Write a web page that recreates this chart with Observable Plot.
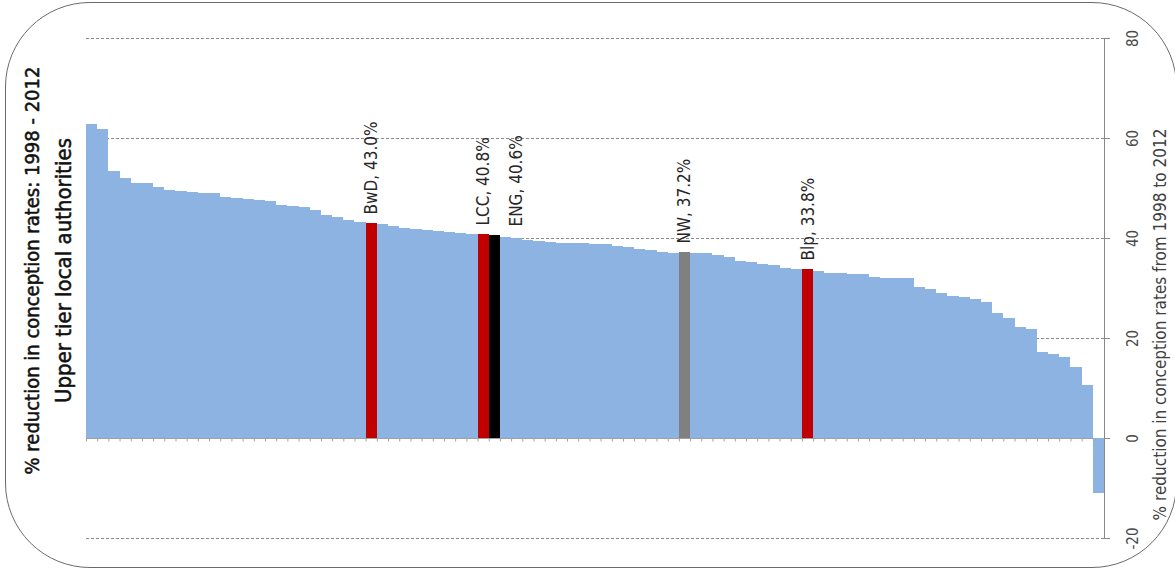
<!DOCTYPE html>
<html><head><meta charset="utf-8">
<script src="https://cdn.jsdelivr.net/npm/d3@7"></script>
<script src="https://cdn.jsdelivr.net/npm/@observablehq/plot@0.6"></script>
<style>
html,body{margin:0;padding:0;background:#fff;}
#wrap{position:relative;width:1175px;height:569px;overflow:hidden;}
#frame{position:absolute;left:5px;top:2px;width:1172px;height:566px;box-sizing:border-box;border:1.5px solid #6a6a6a;border-radius:85px;pointer-events:none;}
#chart svg{display:block;}
</style></head><body>
<div id="wrap"><div id="chart"></div><div id="frame"></div></div>
<script>
// % reduction in conception rates 1998-2012, upper tier local authorities, ranked
const values = [
  62.8, 61.9, 53.5, 52.0, 51.0, 51.0, 50.3, 49.7, 49.5, 49.3,
  49.1, 49.0, 48.3, 48.0, 47.9, 47.7, 47.4, 46.7, 46.4, 46.2,
  45.6, 44.7, 44.2, 43.7, 43.3, 43.0, 42.8, 42.5, 42.1, 41.8,
  41.6, 41.5, 41.3, 41.1, 40.9, 40.8, 40.6, 40.3, 40.1, 39.7,
  39.4, 39.2, 39.1, 39.0, 39.0, 38.9, 38.8, 38.5, 38.2, 37.9,
  37.6, 37.3, 37.1, 37.2, 37.1, 37.0, 36.7, 36.2, 35.4, 35.2,
  34.9, 34.6, 34.1, 33.9, 33.8, 33.4, 33.1, 33.0, 32.9, 32.9,
  32.3, 32.0, 32.0, 32.0, 30.3, 29.9, 29.0, 28.5, 28.2, 27.9,
  27.3, 25.0, 24.0, 22.2, 21.8, 17.2, 16.8, 16.3, 14.2, 10.6,
  -11.0
];
const areaCodes = ["BwD", "LCC", "ENG", "NW", "Blp"];
const areaRanks = [25, 35, 36, 53, 64];
const areaTypes = ["Local authority", "Local authority", "England", "Region", "Local authority"];
const typeNames = ["Other", "Local authority", "England", "Region"];
const yTicks = [-20, 0, 20, 40, 60, 80];
const yTitle = "% reduction in conception rates from 1998 to 2012";
const titleLines = ["% reduction in conception rates: 1998 - 2012", "Upper tier local authorities"];

const n = values.length;
const bars = values.map((v, i) => {
  const k = areaRanks.indexOf(i);
  return {i, v, type: k >= 0 ? areaTypes[k] : "Other", code: k >= 0 ? areaCodes[k] : null};
});
const labelled = bars.filter(d => d.code);
const labelText = d => `${d.code}, ${d.v.toFixed(1)}%`;
const font = '"Liberation Sans Narrow","DejaVu Sans Condensed","Roboto",sans-serif';

const chart = Plot.plot({
  width: 1175, height: 569,
  marginLeft: 86, marginRight: 71, marginTop: 38, marginBottom: 31,
  style: {fontFamily: font, background: "transparent", overflow: "visible"},
  x: {domain: [0, n], axis: null},
  y: {domain: [-20, 80], axis: null},
  color: {domain: typeNames, range: ["#8DB3E2", "#C00000", "#000000", "#808080"]},
  marks: [
    Plot.ruleY(yTicks.filter(t => t !== 0), {stroke: "#8a8a8a", strokeDasharray: "3,2", strokeWidth: 1}),
    Plot.ruleY([0], {stroke: "#a0a0a0"}),
    Plot.ruleX(d3.range(0, n + 1), {y1: 0, y2: -0.7, stroke: "#a0a0a0"}),
    Plot.rectY(bars, {x1: "i", x2: d => d.i + 1, y: "v", fill: "type", shapeRendering: "crispEdges"}),
    Plot.ruleX([n], {stroke: "#8a8a8a"}),
    Plot.ruleY(yTicks, {x1: n, x2: n, insetRight: -6, stroke: "#8a8a8a"}),
    Plot.text(yTicks, {y: d => d, frameAnchor: "right", dx: 29, rotate: -90, textAnchor: "middle", text: d => String(d), fontSize: 15, fill: "#4a4a4a"}),
    Plot.text([yTitle], {frameAnchor: "right", dx: 56, dy: 36, rotate: -90, textAnchor: "middle", fontSize: 17, fill: "#404040"}),
    Plot.text(labelled.filter(d => d.code !== "ENG"), {x: d => d.i + 0.5, y: "v", text: labelText, rotate: -90, textAnchor: "start", dy: -9, fontSize: 17, fill: "#262626"}),
    Plot.text(labelled.filter(d => d.code === "ENG"), {x: d => d.i + 0.5, y: "v", text: labelText, rotate: -90, textAnchor: "start", dy: -9, dx: 22, fontSize: 17, fill: "#262626"}),
    Plot.text([titleLines[0]], {frameAnchor: "left", dx: -54, dy: -18, rotate: -90, textAnchor: "middle", fontSize: 20, fill: "#111", stroke: "#111", strokeWidth: 0.5}),
    Plot.text([titleLines[1]], {frameAnchor: "left", dx: -23, dy: -18, rotate: -90, textAnchor: "middle", fontSize: 22, fill: "#111", stroke: "#111", strokeWidth: 0.5})
  ]
});
document.getElementById("chart").append(chart);
</script>
</body></html>
